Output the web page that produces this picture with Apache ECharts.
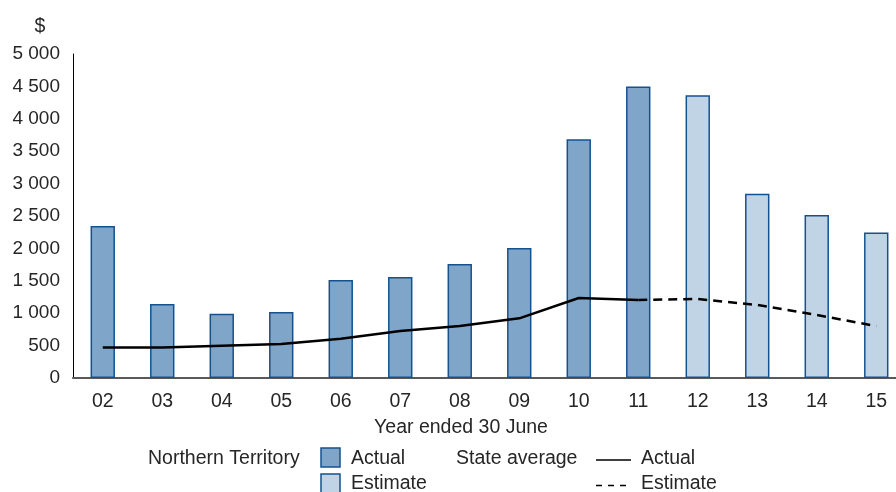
<!DOCTYPE html>
<html>
<head>
<meta charset="utf-8">
<script src="https://cdn.jsdelivr.net/npm/echarts@6/dist/echarts.min.js"></script>
<style>
  html, body { margin: 0; padding: 0; background: #fff; }
  #chart { width: 896px; height: 492px; }
</style>
</head>
<body>
<div id="chart"></div>
<script>
// Year ended 30 June (two-digit years)
const categories = ['02', '03', '04', '05', '06', '07', '08', '09', '10', '11', '12', '13', '14', '15'];

// Northern Territory, $ per year
const ntActual   = [2345, 1142, 990, 1020, 1512, 1560, 1760, 2006, 3685, 4500, null, null, null, null];
const ntEstimate = [null, null, null, null, null, null, null, null, null, null, 4363, 2845, 2515, 2245];

// State average, $ per year (estimate joins the actual line at 11)
const avgActual   = [470, 470, 498, 525, 607, 725, 802, 921, 1235, 1205, null, null, null, null];
const avgEstimate = [null, null, null, null, null, null, null, null, null, 1205, 1219, 1127, 972, 802];

const yTicks = { min: 0, max: 5000, step: 500 };

const FONT = '"Liberation Sans", Arial, sans-serif';
const FS = 19.5;
const TEXT = '#262626';
const BAR_EDGE = '#14528f';
const F = FS + 'px ' + FONT;

const fmt = v => String(v).replace(/\B(?=(\d{3})+(?!\d))/g, ' ');

const chart = echarts.init(document.getElementById('chart'), null, { renderer: 'canvas' });

const txt = (x, y, s, align) => ({
  type: 'text',
  style: { x: x, y: y, text: s, font: F, fill: TEXT, align: align || 'left', verticalAlign: 'middle' }
});

chart.setOption({
  animation: false,
  backgroundColor: '#fff',
  textStyle: { fontFamily: FONT, color: TEXT },
  // the last category runs past the right edge of the canvas
  grid: { left: 73, top: 54, width: 833, bottom: 114, containLabel: false, outerBoundsMode: 'none' },
  xAxis: {
    type: 'category',
    data: categories,
    boundaryGap: true,
    axisLine: { show: true, lineStyle: { color: '#595959', width: 2 } },
    axisTick: { show: false },
    axisLabel: { fontFamily: FONT, fontSize: FS, color: TEXT, margin: 14 }
  },
  yAxis: {
    type: 'value',
    min: yTicks.min,
    max: yTicks.max,
    interval: yTicks.step,
    axisLine: { show: true, lineStyle: { color: '#000', width: 1 } },
    axisTick: { show: false },
    splitLine: { show: false },
    axisLabel: { fontFamily: FONT, fontSize: 19, color: TEXT, margin: 13, formatter: fmt }
  },
  series: [
    {
      name: 'NT actual',
      type: 'bar',
      stack: 'nt',
      barWidth: '41%',
      data: ntActual,
      itemStyle: { color: '#7fa5c8', borderColor: BAR_EDGE, borderWidth: 1.5 }
    },
    {
      name: 'NT estimate',
      type: 'bar',
      stack: 'nt',
      barWidth: '41%',
      data: ntEstimate,
      itemStyle: { color: '#c0d4e5', borderColor: BAR_EDGE, borderWidth: 1.5 }
    },
    {
      name: 'State average actual',
      type: 'line',
      data: avgActual,
      symbol: 'none',
      z: 5,
      lineStyle: { color: '#000', width: 2.5 }
    },
    {
      name: 'State average estimate',
      type: 'line',
      data: avgEstimate,
      symbol: 'none',
      z: 5,
      lineStyle: { color: '#000', width: 2.5, type: [9, 6] }
    }
  ],
  graphic: [
    txt(40, 27, '$', 'center'),
    txt(461, 428, 'Year ended 30 June', 'center'),
    // legend
    txt(148, 459, 'Northern Territory'),
    { type: 'rect', shape: { x: 321, y: 448, width: 19, height: 19 }, style: { fill: '#7fa5c8', stroke: BAR_EDGE, lineWidth: 1.5 } },
    txt(351, 459, 'Actual'),
    { type: 'rect', shape: { x: 321, y: 474, width: 19, height: 19 }, style: { fill: '#c0d4e5', stroke: BAR_EDGE, lineWidth: 1.5 } },
    txt(351, 484, 'Estimate'),
    txt(456, 459, 'State average'),
    { type: 'line', shape: { x1: 596, y1: 460, x2: 631, y2: 460 }, style: { stroke: '#000', lineWidth: 1.5 } },
    txt(641, 459, 'Actual'),
    { type: 'line', shape: { x1: 596, y1: 485.5, x2: 631, y2: 485.5 }, style: { stroke: '#000', lineWidth: 1.5, lineDash: [6, 6] } },
    txt(641, 484, 'Estimate')
  ]
});
</script>
</body>
</html>
